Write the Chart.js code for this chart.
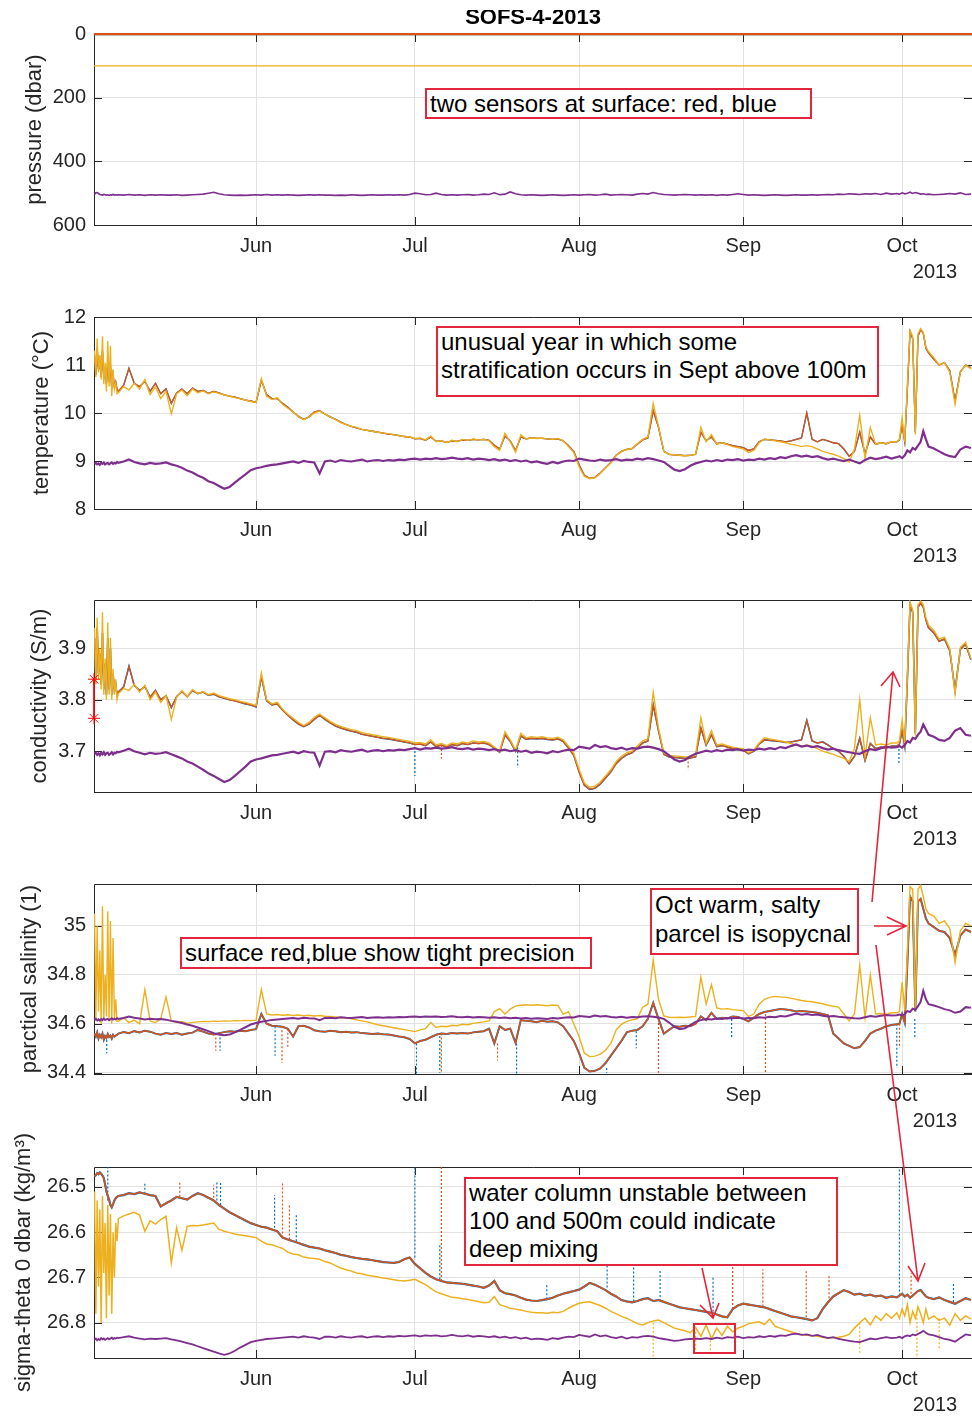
<!DOCTYPE html>
<html>
<head>
<meta charset="utf-8">
<title>SOFS-4-2013</title>
<script src="https://cdn.jsdelivr.net/npm/chart.js@4.4.0/dist/chart.umd.min.js"></script>
<style>
body { margin: 0; background: #fff; width: 972px; height: 1416px; position: relative; overflow: hidden; font-family: "Liberation Sans", Arial, sans-serif; }
canvas { position: absolute; left: 0; }
.note { position: absolute; border: 2px solid #e3263c; background: #fff; font-size: 24px; line-height: 28px; color: #000; padding: 0 3px; box-sizing: border-box; white-space: nowrap; }
svg { position: absolute; left: 0; top: 0; }
</style>
</head>
<body>
<div class="note" style="left:425px;top:88px;width:387px;height:31px">two sensors at surface: red, blue</div>
<div class="note" style="left:436px;top:326px;width:443px;height:71px">unusual year in which some<br>stratification occurs in Sept above 100m</div>
<div class="note" style="left:180px;top:937px;width:412px;height:32px">surface red,blue show tight precision</div>
<div class="note" style="left:650px;top:888px;width:209px;height:67px;line-height:29px">Oct warm, salty<br>parcel is isopycnal</div>
<div class="note" style="left:464px;top:1177px;width:374px;height:89px">water column unstable between<br>100 and 500m could indicate<br>deep mixing</div>
<div class="note" style="left:693px;top:1323px;width:43px;height:31px;background:transparent"></div>
<svg width="972" height="1416">
  <g stroke="#e3263c" stroke-width="1.6" fill="none">
    <path d="M872 902 L893 672 M881 686 L893 672 L900 687"/>
    <path d="M874 926 L906 926 M887 917 L906 926 L887 935"/>
    <path d="M876 945 L918 1281 M908 1266 L918 1281 L925 1263"/>
    <path d="M702 1268 L713 1318 M700 1305 L713 1318 L719 1303"/>
  </g>
</svg>
<script>
// time axis: days since 1 May 2013
const days = [0.5,0.75,1,1.25,1.5,1.75,2,2.25,2.5,2.75,3,3.25,3.5,3.75,4,4.25,4.5,4.75,
  5,6,7,8,9,10,11,12,13,14, 15,16,17,18,19,20,21,22,23,24, 25,26,27,28,29,30,31,32,33,34,
  35,36,37,38,39,40,41,42,43,44, 45,46,47,48,49,50,51,52,53,54, 55,56,57,58,59,60,61,62,63,64,
  65,66,67,68,69,70,71,72,73,74, 75,76,77,78,79,80,81,82,83,84, 85,86,87,88,89,90,91,92,93,94,
  95,96,97,98,99,100,101,102,103,104, 105,106,107,108,109,110,111,112,113,114,
  115,116,117,118,119,120,121,122,123,124, 125,126,127,128,129,130,131,132,133,134,
  135,136,137,138,139,140,141,142,143,144, 145,146,147,148,149,150,151,
  152,152.5,153,153.5,154,154.5,155,155.5,156,156.5,157,157.5,158,
  159,160,161,162,163,164,165,166];

const monthTicks = [31, 61, 92, 123, 153];
const monthLabels = ['Jun', 'Jul', 'Aug', 'Sep', 'Oct'];
const yearLabel = '2013';
const plotTitle = 'SOFS-4-2013';

// pressure (dbar)
const presSurfDays = [0.4, 166.5];
const presSurf = [0.5, 0.5];
const presMid = [100, 100];
const presDeep = [503,499,498,501,504,505,506,504,505,506,505,507,505,506,504,506,505,506,
  505,506,504,506,505,507,505,506,505,506, 506,505,507,506,505,504,503,500,497,502,
  505,506,507,506,507,506,505,506,504,506, 505,506,505,506,507,506,505,506,505,506,
  506,507,506,507,505,506,507,506,505,506, 506,505,506,505,506,504,500,502,505,504,
  500,504,506,505,506,505,504,506,505,503, 504,499,505,503,496,502,505,506,505,506,
  507,506,505,506,507,506,505,506,505,504, 506,505,503,506,505,504,505,506,503,501,
  503,498,502,504,505,506,505,504,505,506, 505,506,505,507,505,506,504,502,504,506,
  505,506,507,506,505,506,507,506,505,506, 506,505,506,505,504,505,503,504,502,503,
  504,502,503,501,504,500,503,
  501,503,499,502,500,497,501,498,500,503,502,504,503,
  505,504,503,501,503,499,504,503];
const presTicks = [0, 200, 400, 600];
const presTickLabels = ['0', '200', '400', '600'];

// temperature (degC)
const tempDeep = [8.94,8.96,8.93,8.95,8.92,8.96,8.94,8.97,8.93,8.95,8.96,8.93,8.95,8.97,8.94,8.96,8.95,8.98,
  8.96,8.99,9.03,8.98,8.95,8.93,8.96,8.94,8.95,8.97, 8.93,8.90,8.86,8.80,8.76,8.70,8.65,8.58,8.54,8.48,
  8.42,8.46,8.55,8.64,8.72,8.81,8.85,8.87,8.90,8.92, 8.93,8.95,8.97,8.99,8.96,9.00,8.98,8.97,8.74,8.99,
  9.01,8.98,9.02,9.00,8.99,9.01,9.03,8.99,9.01,9.02, 9.00,9.02,9.01,9.03,9.02,9.04,9.05,9.03,9.05,9.04,
  9.06,9.04,9.05,9.07,9.05,9.04,9.06,9.03,9.05,9.04, 9.02,9.04,9.01,9.03,9.00,9.02,8.99,9.01,8.97,8.99,
  8.96,8.94,8.98,8.95,8.99,9.01,9.00,9.05,9.03,9.01, 9.00,9.03,9.01,9.02,9.04,9.01,9.03,9.02,9.05,9.03,
  9.06,9.04,9.01,8.98,8.90,8.82,8.79,8.83,8.90,8.95, 8.98,9.01,8.99,9.02,9.00,9.03,9.02,9.04,9.01,9.03,
  9.02,9.05,9.03,9.06,9.04,9.08,9.06,9.10,9.12,9.09, 9.11,9.08,9.10,9.06,9.03,9.05,9.02,9.00,9.03,8.99,
  8.95,9.02,9.07,9.04,9.06,9.09,9.05,
  9.08,9.10,9.06,9.12,9.22,9.18,9.27,9.24,9.32,9.40,9.62,9.45,9.30,
  9.26,9.20,9.14,9.10,9.08,9.24,9.30,9.27];
const tempMid = [11.30,10.75,11.55,10.85,11.20,10.70,11.60,10.60,11.05,10.45,11.50,10.55,11.40,10.35,10.90,10.50,10.62,10.40,
  10.42,10.55,10.48,10.62,10.50,10.70,10.38,10.55,10.30,10.45, 9.98,10.40,10.48,10.36,10.50,10.42,10.46,10.40,10.44,10.41,
  10.38,10.35,10.32,10.30,10.27,10.24,10.22,10.72,10.35,10.28, 10.32,10.18,10.10,10.02,9.92,9.86,9.92,10.00,10.04,9.98,
  9.92,9.86,9.80,9.76,9.72,9.70,9.66,9.64,9.62,9.60, 9.58,9.57,9.55,9.53,9.51,9.50,9.47,9.48,9.44,9.52,
  9.40,9.42,9.38,9.43,9.40,9.45,9.43,9.46,9.44,9.45, 9.42,9.30,9.22,9.58,9.40,9.18,9.55,9.46,9.48,9.47,
  9.48,9.46,9.45,9.47,9.42,9.30,9.18,8.88,8.68,8.63, 8.65,8.74,8.86,8.96,9.12,9.20,9.24,9.26,9.36,9.45,
  9.50,10.20,9.72,9.20,9.14,9.13,9.12,9.11,9.12,9.14, 9.70,9.40,9.55,9.35,9.38,9.34,9.30,9.28,9.25,9.18,
  9.22,9.38,9.46,9.44,9.42,9.40,9.38,9.35,9.33,9.30, 9.32,9.30,9.25,9.20,9.17,9.14,9.10,9.05,8.98,9.25,
  9.95,9.05,9.70,9.35,9.38,9.36,9.40,
  9.40,9.45,9.90,9.40,10.60,11.72,11.60,9.55,11.65,11.76,11.68,11.38,11.28,
  11.15,11.00,11.05,10.85,10.18,10.85,11.00,10.92];
const tempSurf = [11.20,10.80,11.35,10.90,11.10,10.75,11.30,10.70,10.95,10.60,11.10,10.65,11.00,10.50,10.80,10.55,10.65,10.50,
  10.45,10.58,10.93,10.62,10.55,10.66,10.45,10.62,10.40,10.50, 10.20,10.42,10.50,10.40,10.52,10.45,10.47,10.41,10.45,10.42,
  10.38,10.35,10.33,10.30,10.27,10.25,10.22,10.68,10.38,10.30, 10.30,10.20,10.12,10.02,9.93,9.87,9.92,10.02,10.05,9.98,
  9.92,9.87,9.81,9.76,9.72,9.69,9.66,9.64,9.62,9.60, 9.58,9.56,9.55,9.53,9.51,9.50,9.46,9.47,9.43,9.50,
  9.41,9.42,9.39,9.42,9.41,9.44,9.43,9.45,9.44,9.45, 9.43,9.33,9.25,9.52,9.42,9.22,9.50,9.46,9.48,9.47,
  9.47,9.46,9.45,9.46,9.42,9.32,9.20,8.92,8.70,8.64, 8.66,8.75,8.86,8.97,9.12,9.20,9.24,9.26,9.35,9.44,
  9.48,10.05,9.70,9.20,9.14,9.13,9.12,9.11,9.12,9.14, 9.60,9.42,9.50,9.36,9.38,9.35,9.32,9.30,9.28,9.22,
  9.25,9.40,9.45,9.44,9.43,9.42,9.40,9.42,9.45,9.48, 10.00,9.45,9.40,9.45,9.42,9.38,9.36,9.25,9.10,9.20,
  9.60,9.15,9.50,9.35,9.38,9.36,9.40,
  9.40,9.44,9.75,9.40,10.50,11.70,11.55,9.60,11.60,11.74,11.66,11.35,11.25,
  11.12,11.00,11.05,10.88,10.25,10.86,11.00,10.94];
const tempTicks = [8, 9, 10, 11, 12];
const tempTickLabels = ['8', '9', '10', '11', '12'];

// conductivity (S/m)
const condDeep = [3.695,3.697,3.693,3.696,3.692,3.697,3.694,3.698,3.693,3.696,3.697,3.693,3.695,3.698,3.694,3.697,3.696,3.699,
  3.698,3.701,3.705,3.700,3.697,3.694,3.697,3.695,3.696,3.698, 3.694,3.690,3.686,3.680,3.676,3.670,3.664,3.657,3.652,3.646,
  3.640,3.644,3.652,3.661,3.670,3.680,3.684,3.686,3.689,3.692, 3.693,3.695,3.697,3.699,3.696,3.700,3.698,3.697,3.672,3.699,
  3.700,3.698,3.702,3.700,3.699,3.701,3.703,3.699,3.701,3.702, 3.700,3.702,3.701,3.703,3.702,3.704,3.706,3.703,3.706,3.705,
  3.707,3.705,3.706,3.708,3.705,3.704,3.706,3.703,3.705,3.704, 3.702,3.704,3.701,3.703,3.700,3.702,3.699,3.701,3.697,3.699,
  3.698,3.696,3.700,3.698,3.701,3.703,3.702,3.709,3.707,3.705, 3.712,3.708,3.710,3.706,3.704,3.707,3.703,3.706,3.705,3.708,
  3.709,3.707,3.704,3.700,3.692,3.684,3.680,3.683,3.690,3.695, 3.698,3.701,3.699,3.702,3.700,3.703,3.702,3.704,3.701,3.703,
  3.702,3.705,3.703,3.706,3.704,3.708,3.706,3.710,3.713,3.709, 3.711,3.708,3.710,3.706,3.703,3.705,3.702,3.700,3.698,3.696,
  3.695,3.700,3.704,3.702,3.706,3.709,3.707,
  3.708,3.710,3.707,3.712,3.720,3.717,3.726,3.724,3.732,3.738,3.752,3.742,3.732,
  3.728,3.722,3.720,3.726,3.740,3.745,3.732,3.730];
const condMid = [3.94,3.83,3.96,3.84,3.90,3.82,3.97,3.81,3.88,3.80,3.95,3.81,3.92,3.80,3.86,3.81,3.84,3.80,
  3.812,3.822,3.818,3.830,3.815,3.828,3.800,3.815,3.795,3.808, 3.762,3.805,3.818,3.806,3.820,3.812,3.816,3.810,3.813,3.808,
  3.805,3.802,3.800,3.797,3.795,3.792,3.789,3.852,3.800,3.792, 3.795,3.782,3.772,3.764,3.756,3.750,3.756,3.766,3.772,3.765,
  3.758,3.752,3.748,3.745,3.742,3.740,3.736,3.734,3.732,3.730, 3.728,3.727,3.725,3.723,3.721,3.719,3.716,3.717,3.714,3.722,
  3.712,3.715,3.711,3.716,3.714,3.718,3.716,3.720,3.718,3.719, 3.716,3.708,3.700,3.738,3.722,3.702,3.735,3.726,3.728,3.727,
  3.728,3.726,3.725,3.727,3.722,3.710,3.696,3.665,3.638,3.630, 3.632,3.640,3.652,3.664,3.680,3.690,3.697,3.700,3.710,3.720,
  3.724,3.815,3.745,3.697,3.692,3.691,3.690,3.689,3.690,3.692, 3.765,3.715,3.740,3.712,3.714,3.711,3.708,3.706,3.705,3.697,
  3.702,3.716,3.726,3.724,3.722,3.720,3.718,3.715,3.712,3.710, 3.712,3.710,3.705,3.700,3.697,3.694,3.690,3.686,3.680,3.705,
  3.800,3.690,3.765,3.712,3.714,3.712,3.716,
  3.716,3.720,3.760,3.716,3.850,3.990,3.975,3.730,3.985,3.992,3.985,3.960,3.945,
  3.935,3.918,3.922,3.900,3.812,3.902,3.912,3.880];
const condSurf = [3.92,3.84,3.94,3.85,3.89,3.83,3.93,3.82,3.87,3.81,3.92,3.82,3.90,3.81,3.85,3.82,3.83,3.81,
  3.815,3.825,3.865,3.828,3.818,3.826,3.805,3.818,3.800,3.808, 3.785,3.806,3.816,3.806,3.818,3.812,3.815,3.809,3.811,3.806,
  3.803,3.800,3.798,3.795,3.792,3.790,3.786,3.845,3.798,3.790, 3.792,3.780,3.770,3.761,3.753,3.748,3.753,3.762,3.770,3.762,
  3.755,3.749,3.745,3.742,3.739,3.737,3.733,3.731,3.729,3.727, 3.725,3.724,3.722,3.720,3.718,3.716,3.713,3.714,3.711,3.718,
  3.709,3.712,3.708,3.713,3.711,3.715,3.713,3.716,3.715,3.716, 3.713,3.706,3.698,3.732,3.719,3.700,3.730,3.723,3.725,3.724,
  3.725,3.723,3.722,3.724,3.719,3.706,3.692,3.660,3.634,3.626, 3.628,3.636,3.648,3.660,3.676,3.686,3.693,3.697,3.706,3.716,
  3.720,3.790,3.740,3.694,3.689,3.688,3.687,3.686,3.687,3.689, 3.745,3.712,3.732,3.709,3.711,3.708,3.705,3.703,3.702,3.695,
  3.700,3.714,3.722,3.721,3.720,3.719,3.717,3.718,3.720,3.722, 3.760,3.720,3.716,3.718,3.712,3.705,3.700,3.690,3.676,3.690,
  3.725,3.682,3.715,3.705,3.708,3.706,3.710,
  3.710,3.714,3.740,3.710,3.840,3.985,3.970,3.735,3.980,3.988,3.980,3.955,3.940,
  3.930,3.914,3.918,3.896,3.818,3.898,3.908,3.878];
const condBlueSpikeDays = [61.0, 80.4, 152.4];
const condBlueSpikeBase = [3.716, 3.715, 3.712];
const condBlueSpikeTip = [3.652, 3.668, 3.677];
const condRedSpikeDays = [66.0, 112.6];
const condRedSpikeBase = [3.712, 3.688];
const condRedSpikeTip = [3.686, 3.664];
const condMarkDays = [0.4, 0.4];
const condMarks = [3.840, 3.764];
const condTicks = [3.7, 3.8, 3.9];
const condTickLabels = ['3.7', '3.8', '3.9'];

// practical salinity
const salDeep = [34.616,34.620,34.614,34.618,34.613,34.619,34.615,34.621,34.616,34.618,34.620,34.615,34.618,34.622,34.617,34.620,34.618,34.623,
  34.620,34.624,34.630,34.625,34.622,34.618,34.621,34.619,34.620,34.617, 34.612,34.608,34.603,34.597,34.592,34.585,34.578,34.570,34.562,34.556,
  34.553,34.556,34.565,34.575,34.586,34.597,34.603,34.608,34.612,34.616, 34.618,34.620,34.622,34.624,34.621,34.625,34.623,34.622,34.615,34.624,
  34.625,34.623,34.627,34.625,34.624,34.626,34.628,34.624,34.626,34.627, 34.625,34.627,34.626,34.628,34.627,34.629,34.630,34.628,34.630,34.629,
  34.630,34.628,34.629,34.631,34.628,34.627,34.629,34.626,34.628,34.627, 34.625,34.627,34.624,34.626,34.623,34.625,34.622,34.624,34.621,34.623,
  34.622,34.620,34.624,34.622,34.625,34.627,34.626,34.632,34.630,34.628, 34.634,34.630,34.632,34.628,34.626,34.629,34.625,34.628,34.627,34.630,
  34.631,34.629,34.626,34.620,34.605,34.588,34.578,34.582,34.595,34.608, 34.615,34.620,34.618,34.622,34.620,34.624,34.623,34.625,34.622,34.624,
  34.623,34.627,34.625,34.629,34.627,34.632,34.630,34.636,34.642,34.637, 34.640,34.636,34.638,34.633,34.630,34.632,34.629,34.627,34.625,34.623,
  34.622,34.627,34.632,34.629,34.633,34.636,34.634,
  34.635,34.638,34.634,34.640,34.652,34.648,34.662,34.658,34.672,34.690,34.735,34.700,34.680,
  34.675,34.668,34.660,34.655,34.645,34.650,34.668,34.666];
const salMid = [35.05,34.62,35.00,34.65,34.90,34.60,35.08,34.62,34.80,34.63,35.06,34.61,35.02,34.60,34.95,34.62,34.70,34.61,
  34.610,34.625,34.605,34.615,34.600,34.740,34.612,34.605,34.620,34.710, 34.612,34.605,34.610,34.602,34.606,34.608,34.610,34.609,34.611,34.610,
  34.612,34.611,34.613,34.612,34.614,34.613,34.615,34.740,34.640,34.636, 34.638,34.635,34.637,34.634,34.636,34.633,34.635,34.632,34.634,34.631,
  34.630,34.628,34.626,34.624,34.620,34.616,34.612,34.608,34.602,34.596, 34.592,34.588,34.584,34.580,34.576,34.572,34.568,34.575,34.580,34.605,
  34.585,34.590,34.588,34.594,34.592,34.598,34.596,34.602,34.605,34.608, 34.612,34.650,34.662,34.640,34.660,34.672,34.676,34.678,34.676,34.678,
  34.676,34.674,34.677,34.675,34.640,34.650,34.600,34.548,34.480,34.466, 34.468,34.476,34.492,34.520,34.575,34.598,34.610,34.616,34.620,34.668,
  34.680,34.860,34.700,34.632,34.627,34.626,34.627,34.626,34.628,34.630, 34.790,34.680,34.760,34.665,34.660,34.662,34.658,34.656,34.654,34.630,
  34.640,34.680,34.700,34.708,34.712,34.710,34.708,34.705,34.700,34.695, 34.692,34.690,34.686,34.682,34.676,34.672,34.668,34.640,34.612,34.640,
  34.840,34.625,34.800,34.640,34.642,34.638,34.645,
  34.645,34.650,34.770,34.655,34.900,35.160,35.150,34.660,35.150,35.165,35.120,35.070,35.050,
  35.040,35.010,35.020,34.990,34.850,34.980,35.010,35.000];
const salSurf = [34.560,34.548,34.565,34.540,34.555,34.545,34.560,34.535,34.550,34.542,34.558,34.546,34.552,34.540,34.555,34.548,34.552,34.555,
  34.560,34.566,34.562,34.570,34.565,34.572,34.568,34.560,34.555,34.562, 34.558,34.562,34.555,34.560,34.564,34.575,34.568,34.560,34.556,34.562,
  34.566,34.570,34.568,34.572,34.570,34.575,34.578,34.640,34.600,34.592, 34.590,34.588,34.580,34.548,34.590,34.592,34.585,34.574,34.570,34.568,
  34.572,34.570,34.566,34.568,34.565,34.566,34.562,34.560,34.558,34.560, 34.557,34.556,34.552,34.548,34.545,34.538,34.520,34.530,34.535,34.545,
  34.555,34.560,34.558,34.562,34.560,34.562,34.560,34.565,34.568,34.570, 34.580,34.520,34.590,34.575,34.580,34.522,34.615,34.612,34.610,34.606,
  34.612,34.608,34.610,34.606,34.590,34.560,34.530,34.480,34.420,34.405, 34.408,34.418,34.440,34.470,34.500,34.530,34.565,34.572,34.575,34.590,
  34.620,34.685,34.620,34.560,34.575,34.590,34.588,34.592,34.590,34.600, 34.630,34.615,34.645,34.620,34.625,34.622,34.630,34.628,34.620,34.610,
  34.625,34.640,34.648,34.652,34.656,34.660,34.658,34.655,34.650,34.652, 34.650,34.648,34.645,34.640,34.635,34.560,34.540,34.520,34.510,34.500,
  34.505,34.530,34.560,34.572,34.580,34.590,34.595,
  34.598,34.600,34.640,34.605,34.850,35.120,35.100,34.650,35.100,35.110,35.070,35.030,35.010,
  34.995,34.980,34.975,34.950,34.880,34.960,34.985,34.975];
const salBlueSpikeDays = [2.8, 24.2, 34.6, 61.3, 65.7, 80.2, 97.2, 102.8, 120.8, 152.0, 155.4];
const salBlueSpikeBase = [34.55, 34.56, 34.59, 34.52, 34.55, 34.52, 34.42, 34.57, 34.62, 34.60, 34.62];
const salBlueSpikeTip = [34.48, 34.49, 34.47, 34.39, 34.40, 34.39, 34.40, 34.50, 34.54, 34.42, 34.54];
const salRedSpikeDays = [23.4, 35.9, 37.0, 66.0, 76.6, 107.0, 127.2, 152.5];
const salRedSpikeBase = [34.56, 34.59, 34.58, 34.56, 34.52, 34.62, 34.64, 34.60];
const salRedSpikeTip = [34.49, 34.44, 34.50, 34.40, 34.45, 34.40, 34.39, 34.50];
const salTicks = [34.4, 34.6, 34.8, 35];
const salTickLabels = ['34.4', '34.6', '34.8', '35'];

// sigma-theta 0 dbar (kg/m3)
const sigDeep = [26.837,26.835,26.839,26.836,26.838,26.834,26.837,26.835,26.838,26.836,26.834,26.837,26.835,26.833,26.836,26.834,26.835,26.833,
  26.834,26.832,26.830,26.833,26.835,26.837,26.835,26.836,26.835,26.834, 26.837,26.839,26.842,26.845,26.848,26.852,26.856,26.860,26.864,26.868,
  26.871,26.868,26.862,26.855,26.849,26.843,26.840,26.838,26.836,26.835, 26.834,26.833,26.832,26.831,26.833,26.830,26.832,26.833,26.836,26.831,
  26.831,26.833,26.830,26.832,26.833,26.831,26.830,26.833,26.831,26.830, 26.832,26.830,26.831,26.829,26.830,26.829,26.828,26.830,26.828,26.829,
  26.828,26.830,26.829,26.827,26.829,26.830,26.828,26.831,26.829,26.830, 26.832,26.830,26.833,26.831,26.834,26.832,26.835,26.833,26.837,26.835,
  26.836,26.838,26.834,26.836,26.833,26.831,26.832,26.827,26.829,26.831, 26.826,26.830,26.828,26.832,26.834,26.831,26.835,26.832,26.833,26.830,
  26.829,26.831,26.834,26.836,26.838,26.840,26.839,26.837,26.836,26.835, 26.836,26.834,26.836,26.833,26.835,26.832,26.833,26.831,26.834,26.832,
  26.833,26.830,26.832,26.829,26.831,26.828,26.829,26.826,26.824,26.827, 26.826,26.829,26.827,26.831,26.834,26.832,26.836,26.838,26.840,26.842,
  26.843,26.839,26.835,26.837,26.834,26.832,26.834,
  26.833,26.831,26.834,26.830,26.828,26.830,26.826,26.828,26.825,26.822,26.818,26.822,26.826,
  26.828,26.832,26.836,26.838,26.842,26.834,26.826,26.828];
const sigMid = [26.51,26.78,26.53,26.72,26.55,26.80,26.52,26.69,26.58,26.79,26.54,26.74,26.56,26.78,26.60,26.70,26.58,26.62,
  26.570,26.564,26.560,26.556,26.562,26.598,26.575,26.582,26.572,26.565, 26.668,26.590,26.640,26.587,26.585,26.586,26.584,26.582,26.580,26.594,
  26.598,26.601,26.604,26.606,26.608,26.610,26.612,26.620,26.626,26.628, 26.632,26.636,26.644,26.648,26.650,26.655,26.657,26.658,26.660,26.665,
  26.668,26.674,26.679,26.683,26.686,26.690,26.692,26.695,26.697,26.699, 26.701,26.703,26.705,26.707,26.708,26.706,26.704,26.710,26.716,26.724,
  26.732,26.736,26.740,26.744,26.745,26.747,26.749,26.751,26.753,26.756, 26.755,26.742,26.760,26.764,26.768,26.770,26.772,26.775,26.777,26.778,
  26.778,26.779,26.777,26.778,26.775,26.768,26.762,26.757,26.755,26.754, 26.758,26.762,26.768,26.775,26.780,26.786,26.790,26.796,26.802,26.805,
  26.800,26.796,26.794,26.800,26.806,26.812,26.815,26.818,26.822,26.810, 26.830,26.805,26.835,26.812,26.828,26.808,26.820,26.812,26.808,26.802,
  26.800,26.798,26.804,26.792,26.808,26.812,26.816,26.820,26.824,26.826, 26.828,26.829,26.830,26.832,26.834,26.833,26.832,26.830,26.826,26.812,
  26.800,26.790,26.805,26.785,26.795,26.780,26.790,
  26.778,26.790,26.770,26.785,26.760,26.800,26.775,26.790,26.765,26.780,26.800,26.770,26.792,
  26.785,26.795,26.790,26.805,26.780,26.795,26.785,26.792];
const sigSurf = [26.477,26.474,26.470,26.472,26.468,26.471,26.475,26.480,26.495,26.510,26.520,26.528,26.540,26.545,26.538,26.530,26.525,26.522,
  26.520,26.518,26.514,26.516,26.512,26.515,26.518,26.520,26.543,26.536, 26.530,26.522,26.525,26.528,26.520,26.514,26.518,26.524,26.530,26.540,
  26.548,26.556,26.562,26.568,26.574,26.580,26.584,26.588,26.590,26.594, 26.598,26.612,26.616,26.620,26.624,26.628,26.632,26.634,26.636,26.640,
  26.643,26.646,26.650,26.652,26.655,26.657,26.659,26.660,26.662,26.664, 26.666,26.667,26.668,26.666,26.660,26.656,26.670,26.680,26.690,26.698,
  26.704,26.708,26.711,26.712,26.713,26.714,26.716,26.718,26.720,26.723, 26.718,26.708,26.728,26.735,26.737,26.740,26.745,26.749,26.751,26.752,
  26.750,26.748,26.745,26.740,26.736,26.733,26.730,26.727,26.720,26.712, 26.716,26.722,26.728,26.736,26.742,26.750,26.753,26.755,26.752,26.748,
  26.746,26.752,26.750,26.754,26.758,26.762,26.766,26.768,26.770,26.772, 26.774,26.776,26.778,26.782,26.786,26.788,26.770,26.762,26.758,26.760,
  26.762,26.764,26.766,26.770,26.774,26.778,26.782,26.786,26.788,26.790, 26.792,26.795,26.790,26.770,26.755,26.742,26.735,26.728,26.732,26.738,
  26.736,26.740,26.738,26.742,26.740,26.745,26.742,
  26.744,26.740,26.736,26.742,26.738,26.745,26.740,26.735,26.730,26.728,26.735,26.742,26.745,
  26.748,26.744,26.750,26.754,26.758,26.752,26.746,26.750];
const sigBlueSpikeDays = [3.0, 10.0, 23.6, 24.3, 34.5, 38.6, 61.0, 65.7, 85.9, 97.3, 102.3, 107.3, 117.3, 152.5, 162.7];
const sigBlueSpikeBase = [26.53, 26.515, 26.53, 26.54, 26.59, 26.62, 26.656, 26.704, 26.748, 26.722, 26.753, 26.752, 26.776, 26.74, 26.754];
const sigBlueSpikeTip = [26.456, 26.49, 26.49, 26.49, 26.518, 26.558, 26.456, 26.628, 26.716, 26.675, 26.675, 26.686, 26.697, 26.456, 26.712];
const sigRedSpikeDays = [16.6, 23.0, 36.0, 37.3, 66.0, 121.0, 126.7, 134.9, 139.2, 154.7];
const sigRedSpikeBase = [26.522, 26.524, 26.612, 26.616, 26.708, 26.770, 26.764, 26.788, 26.755, 26.745];
const sigRedSpikeTip = [26.49, 26.495, 26.492, 26.54, 26.456, 26.675, 26.682, 26.682, 26.697, 26.69];
const sigMidSpikeDays = [106.0, 114.0, 116.8, 145.0, 155.8, 160.0];
const sigMidSpikeBase = [26.80, 26.82, 26.83, 26.80, 26.78, 26.79];
const sigMidSpikeTip = [26.878, 26.86, 26.87, 26.87, 26.878, 26.86];
const sigTicks = [26.5, 26.6, 26.7, 26.8];
const sigTickLabels = ['26.5', '26.6', '26.7', '26.8'];

// MATLAB default line colours
const BLUE = '#0072BD', RED = '#D95319', YELLOW = '#EDB120', PURPLE = '#7E2F8E';
const FONT = '"Liberation Sans", Arial, sans-serif';
const INK = '#262626';

function pts(xs, ys) {
  return xs.map((x, i) => ({ x: x, y: ys[i] }));
}
function spikes(xs, base, tip) {
  const out = [];
  xs.forEach((x, i) => { out.push({ x: x, y: base[i] }, { x: x, y: tip[i] }, { x: x, y: null }); });
  return out;
}
function line(data, color, width, extra) {
  return Object.assign({ data: data, borderColor: color, backgroundColor: color, borderWidth: width,
    pointRadius: 0, fill: false, tension: 0, spanGaps: false }, extra || {});
}

// axes box and inward ticks under the data (MATLAB layer 'bottom'), texts on top
const frame = {
  id: 'frame',
  beforeDatasetsDraw(chart) {
    const { ctx, chartArea: a, scales: { x, y } } = chart;
    ctx.save();
    ctx.strokeStyle = INK;
    ctx.lineWidth = 1;
    ctx.beginPath();
    ctx.moveTo(a.left + 0.5, a.bottom + 0.5);
    ctx.lineTo(a.left + 0.5, a.top + 0.5);
    ctx.lineTo(a.right, a.top + 0.5);
    ctx.moveTo(a.left, a.bottom + 0.5);
    ctx.lineTo(a.right, a.bottom + 0.5);
    x.ticks.forEach(t => {
      const px = Math.round(x.getPixelForValue(t.value)) + 0.5;
      ctx.moveTo(px, a.bottom); ctx.lineTo(px, a.bottom - 8);
      ctx.moveTo(px, a.top); ctx.lineTo(px, a.top + 8);
    });
    y.ticks.forEach(t => {
      const py = Math.round(y.getPixelForValue(t.value)) + 0.5;
      ctx.moveTo(a.left, py); ctx.lineTo(a.left + 8, py);
      ctx.moveTo(a.right, py); ctx.lineTo(a.right - 8, py);
    });
    ctx.stroke();
    ctx.restore();
  },
  afterDraw(chart, args, opts) {
    const { ctx, chartArea: a } = chart;
    ctx.save();
    ctx.fillStyle = INK;
    ctx.textAlign = 'center';
    ctx.textBaseline = 'middle';
    ctx.font = '20px ' + FONT;
    ctx.fillText(yearLabel, 935, a.bottom + 47);
    ctx.save();
    ctx.translate(opts.yTitleX, (a.top + a.bottom) / 2);
    ctx.rotate(-Math.PI / 2);
    ctx.font = '22px ' + FONT;
    ctx.fillText(opts.yTitle, 0, 0);
    ctx.restore();
    if (opts.title) {
      ctx.fillStyle = '#000';
      ctx.font = 'bold 22px ' + FONT;
      ctx.fillText(opts.title, (a.left + a.right) / 2, a.top - 16);
    }
    ctx.restore();
  }
};

function panel(p) {
  const padTop = p.padTop || 24;
  const cv = document.createElement('canvas');
  cv.width = 972;
  cv.height = p.bottom - p.top + padTop + 58;
  cv.style.top = (p.top - padTop) + 'px';
  document.body.insertBefore(cv, document.body.firstChild);
  new Chart(cv, {
    type: 'line',
    data: { datasets: p.datasets },
    plugins: [frame],
    options: {
      responsive: false,
      animation: false,
      devicePixelRatio: 1,
      layout: { autoPadding: false, padding: { top: padTop, left: 0, right: 0, bottom: 0 } },
      plugins: { legend: { display: false }, tooltip: { enabled: false },
        frame: { title: p.title || '', yTitle: p.yTitle, yTitleX: p.yTitleX } },
      scales: {
        x: {
          type: 'linear', min: 0.4, max: 166.2,
          afterBuildTicks: s => { s.ticks = monthTicks.map(v => ({ value: v })); },
          afterFit: s => { s.height = 58; },
          ticks: { callback: (v, i) => monthLabels[i], font: { size: 20, family: FONT }, color: INK,
            padding: 9, maxRotation: 0, autoSkip: false },
          grid: { color: '#e2e2e2', drawTicks: false },
          border: { display: false }
        },
        y: {
          type: 'linear', min: p.min, max: p.max, reverse: !!p.reverse,
          afterBuildTicks: s => { s.ticks = p.ticks.map(v => ({ value: v })); },
          afterFit: s => { s.width = 94; },
          ticks: { callback: (v, i) => p.tickLabels[i], font: { size: 20, family: FONT }, color: INK, padding: 8 },
          grid: { color: '#e2e2e2', drawTicks: false },
          border: { display: false }
        }
      }
    }
  });
}

panel({
  top: 34, bottom: 225, min: 0, max: 600, reverse: true, title: plotTitle,
  ticks: presTicks, tickLabels: presTickLabels, yTitle: 'pressure (dbar)', yTitleX: 35,
  datasets: [
    line(pts(days, presDeep), PURPLE, 1.6),
    line(pts(presSurfDays, presMid), YELLOW, 1.2),
    line(pts(presSurfDays, presSurf), RED, 2.2, { clip: false }),
    line(pts(presSurfDays, presSurf), BLUE, 2.2, { clip: false })
  ]
});

panel({
  top: 317, bottom: 509, min: 8, max: 12,
  ticks: tempTicks, tickLabels: tempTickLabels, yTitle: 'temperature (°C)', yTitleX: 42,
  datasets: [
    line(pts(days, tempDeep), PURPLE, 2.2),
    line(pts(days, tempMid), YELLOW, 1.4),
    line(pts(days, tempSurf), RED, 1.3),
    line(pts(days, tempSurf), BLUE, 1.3)
  ]
});

panel({
  top: 600, bottom: 792, min: 3.6207, max: 3.994,
  ticks: condTicks, tickLabels: condTickLabels, yTitle: 'conductivity (S/m)', yTitleX: 40,
  datasets: [
    line(pts(condMarkDays, condMarks), 'red', 1, { pointRadius: 6, pointStyle: 'star', pointBorderColor: 'red', pointBorderWidth: 1, clip: false }),
    line(pts(days, condDeep), PURPLE, 2.2),
    line(pts(days, condMid), YELLOW, 1.4),
    line(pts(days, condSurf), RED, 1.3),
    line(spikes(condRedSpikeDays, condRedSpikeBase, condRedSpikeTip), RED, 1.2, { borderDash: [2, 2] }),
    line(pts(days, condSurf), BLUE, 1.6),
    line(spikes(condBlueSpikeDays, condBlueSpikeBase, condBlueSpikeTip), BLUE, 1.2, { borderDash: [2, 2] })
  ]
});

panel({
  top: 884, bottom: 1074, min: 34.395, max: 35.171,
  ticks: salTicks, tickLabels: salTickLabels, yTitle: 'parctical salinity (1)', yTitleX: 30,
  datasets: [
    line(pts(days, salDeep), PURPLE, 2.0),
    line(pts(days, salMid), YELLOW, 1.4),
    line(pts(days, salSurf), RED, 1.5),
    line(spikes(salRedSpikeDays, salRedSpikeBase, salRedSpikeTip), RED, 1.2, { borderDash: [2, 2] }),
    line(pts(days, salSurf), BLUE, 2.0),
    line(spikes(salBlueSpikeDays, salBlueSpikeBase, salBlueSpikeTip), BLUE, 1.2, { borderDash: [2, 2] })
  ]
});

panel({
  top: 1167, bottom: 1358, min: 26.456, max: 26.878, reverse: true, padTop: 52,
  ticks: sigTicks, tickLabels: sigTickLabels, yTitle: 'sigma-theta 0 dbar (kg/m³)', yTitleX: 24,
  datasets: [
    line(pts(days, sigDeep), PURPLE, 1.8),
    line(pts(days, sigMid), YELLOW, 1.5),
    line(spikes(sigMidSpikeDays, sigMidSpikeBase, sigMidSpikeTip), YELLOW, 1.2, { borderDash: [2, 2] }),
    line(pts(days, sigSurf), RED, 1.6),
    line(spikes(sigRedSpikeDays, sigRedSpikeBase, sigRedSpikeTip), RED, 1.2, { borderDash: [2, 2] }),
    line(pts(days, sigSurf), BLUE, 2.2),
    line(spikes(sigBlueSpikeDays, sigBlueSpikeBase, sigBlueSpikeTip), BLUE, 1.2, { borderDash: [2, 2] })
  ]
});
</script>
</body>
</html>
